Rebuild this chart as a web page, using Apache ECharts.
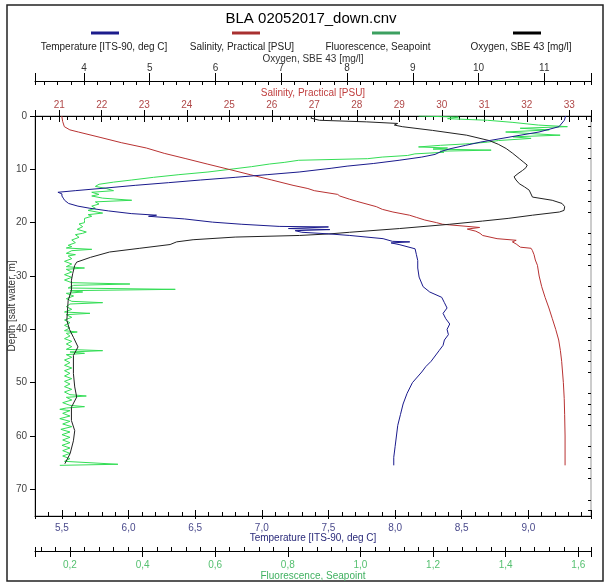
<!DOCTYPE html>
<html>
<head>
<meta charset="utf-8">
<title>BLA 02052017_down.cnv</title>
<script src="https://cdn.jsdelivr.net/npm/echarts@6/dist/echarts.min.js"></script>
<style>
  html, body { margin: 0; padding: 0; background: #fff; }
  #chart { width: 605px; height: 582px; }
</style>
</head>
<body>
<div id="chart"></div>
<script>
// profile values, depth in m
const tempDepth = [0, 0.8, 2, 3, 3.9, 4.9, 5.5, 6.1, 6.6, 7.2, 7.7, 8.3, 8.9, 9.4, 9.8, 10.5, 11, 11.5, 12, 12.5, 13, 13.5, 14, 14.3, 14.6, 15, 15.4, 15.8, 16.4, 16.9, 17.3, 17.8, 18.3, 18.6, 18.8, 19.3, 19.9, 20.3, 20.7, 20.8, 21.1, 21.3, 21.5, 21.8, 22.1, 22.4, 23, 23.5, 23.6, 23.8, 24.1, 24.9, 26, 27.1, 28.5, 30.2, 32, 33, 34, 35, 36, 37, 38, 39, 40, 41, 42, 43, 44, 45, 46, 47, 48, 50, 52, 54, 56, 58, 60, 62, 64, 65.5];
const tempValue = [9.28, 9.27, 9.23, 9.08, 8.87, 8.64, 8.53, 8.42, 8.35, 8.3, 8.2, 8.03, 7.84, 7.64, 7.52, 7.28, 7.04, 6.8, 6.54, 6.3, 6.05, 5.83, 5.6, 5.47, 5.5, 5.5, 5.51, 5.52, 5.55, 5.62, 5.71, 5.85, 6.02, 6.21, 6.15, 6.42, 6.63, 6.85, 7.13, 7.5, 7.2, 7.51, 7.25, 7.3, 7.5, 7.66, 7.91, 7.98, 8.11, 7.97, 8.03, 8.15, 8.16, 8.17, 8.17, 8.18, 8.21, 8.26, 8.35, 8.37, 8.39, 8.36, 8.38, 8.41, 8.39, 8.4, 8.37, 8.36, 8.33, 8.3, 8.27, 8.23, 8.2, 8.13, 8.09, 8.06, 8.04, 8.02, 8.01, 8.0, 7.99, 7.99];

const salDepth = [0, 1, 2, 2.6, 3, 4, 5, 6, 7, 8, 9, 10, 11, 12, 13, 13.6, 14, 14.7, 15, 15.6, 16, 17, 17.5, 18, 18.6, 19, 19.5, 20, 20.3, 20.9, 21.2, 21.6, 22, 22.4, 23, 23.3, 23.6, 24, 24.6, 24.8, 25.2, 26, 27, 28, 30, 32, 34, 36, 38, 40, 42, 44, 46, 48, 50, 53, 56, 60, 63, 65.5];
const salValue = [21.06, 21.08, 21.12, 21.25, 21.45, 21.96, 22.46, 23.05, 23.47, 23.98, 24.48, 24.99, 25.49, 26.0, 26.5, 26.85, 27.0, 27.55, 27.6, 27.83, 28.0, 28.46, 28.6, 28.85, 29.24, 29.4, 29.6, 29.88, 30.02, 30.89, 30.6, 30.8, 30.9, 30.96, 31.3, 31.75, 31.66, 31.75, 31.85, 32.1, 32.13, 32.17, 32.2, 32.25, 32.29, 32.35, 32.43, 32.52, 32.6, 32.68, 32.75, 32.79, 32.82, 32.84, 32.86, 32.88, 32.89, 32.9, 32.9, 32.9];

const fluDepth = [0, 0.2, 0.5, 0.8, 1.2, 1.7, 2.0, 2.3, 2.6, 3.0, 3.3, 3.6, 3.9, 4.2, 4.6, 4.9, 5.2, 5.5, 5.8, 6.0, 6.2, 6.4, 6.6, 6.8, 7.1, 7.4, 7.7, 8.0, 8.3, 8.7, 9.0, 9.5, 10.0, 10.5, 11.0, 11.5, 12.0, 12.4, 12.8, 13.2, 13.6, 14.0, 14.3, 14.7, 15.0, 15.4, 15.8, 16.1, 16.5, 16.9, 17.3, 17.7, 18.2, 18.5, 18.8, 19.2, 19.6,
  20.0, 20.25, 20.5, 20.75, 21.0, 21.25, 21.5, 21.75, 22.0, 22.25,
  22.5, 22.75, 23.0, 23.25, 23.5, 23.75, 24.0, 24.25, 24.5, 24.75,
  25.0, 25.25, 25.5, 25.75, 26.0, 26.25, 26.5, 26.75, 27.0, 27.25,
  27.5, 27.75, 28.0, 28.25, 28.5, 28.75, 29.0, 29.25, 29.5, 29.75,
  30.0, 30.25, 30.5, 30.75, 31.0, 31.25, 31.5, 31.75, 32.0, 32.25,
  32.5, 32.75, 33.0, 33.25, 33.5, 33.75, 34.0, 34.25, 34.5, 34.75,
  35.0, 35.25, 35.5, 35.75, 36.0, 36.25, 36.5, 36.75, 37.0, 37.25,
  37.5, 37.75, 38.0, 38.25, 38.5, 38.75, 39.0, 39.25, 39.5, 39.75,
  40.0, 40.25, 40.5, 40.75, 41.0, 41.25, 41.5, 41.75, 42.0, 42.25,
  42.5, 42.75, 43.0, 43.25, 43.5, 43.75, 44.0, 44.25, 44.5, 44.75,
  45.0, 45.25, 45.5, 45.75, 46.0, 46.25, 46.5, 46.75, 47.0, 47.25,
  47.5, 47.75, 48.0, 48.25, 48.5, 48.75, 49.0, 49.25, 49.5, 49.75,
  50.0, 50.25, 50.5, 50.75, 51.0, 51.25, 51.5, 51.75, 52.0, 52.25,
  52.5, 52.75, 53.0, 53.25, 53.5, 53.75, 54.0, 54.25, 54.5, 54.75,
  55.0, 55.25, 55.5, 55.75, 56.0, 56.25, 56.5, 56.75, 57.0, 57.25,
  57.5, 57.75, 58.0, 58.25, 58.5, 58.75, 59.0, 59.25, 59.5, 59.75,
  60.0, 60.25, 60.5, 60.75, 61.0, 61.25, 61.5, 61.75, 62.0, 62.25,
  62.5, 62.75, 63.0, 63.25, 63.5, 63.75, 64.0, 64.25, 64.5, 64.75,
  65.0, 65.3, 65.5];
const fluValue = [1.16, 1.27, 1.24, 1.35, 1.42, 1.49, 1.57, 1.44, 1.52, 1.40, 1.47, 1.55, 1.42, 1.47, 1.38, 1.35, 1.30, 1.22, 1.16, 1.24, 1.20, 1.36, 1.22, 1.23, 1.15, 1.13, 1.06, 1.02, 0.83, 0.79, 0.75, 0.70, 0.64, 0.58, 0.50, 0.43, 0.37, 0.32, 0.28, 0.27, 0.30, 0.32, 0.26, 0.28, 0.26, 0.29, 0.37, 0.27, 0.28, 0.26, 0.27, 0.25, 0.29, 0.25, 0.26, 0.24, 0.24,
  0.24, 0.225, 0.22, 0.235, 0.24, 0.22, 0.225, 0.245, 0.235, 0.215,
  0.21, 0.225, 0.22, 0.205, 0.20, 0.215, 0.21, 0.195, 0.205, 0.19,
  0.26, 0.205, 0.20, 0.19, 0.215, 0.195, 0.19, 0.205, 0.205, 0.185,
  0.19, 0.205, 0.205, 0.19, 0.24, 0.19, 0.19, 0.205, 0.205, 0.185,
  0.19, 0.205, 0.20, 0.185, 0.19, 0.205, 0.365, 0.21, 0.21, 0.195,
  0.49, 0.20, 0.235, 0.19, 0.20, 0.21, 0.215, 0.19, 0.19, 0.205,
  0.29, 0.20, 0.205, 0.19, 0.19, 0.205, 0.205, 0.185, 0.255, 0.19,
  0.19, 0.205, 0.20, 0.185, 0.185, 0.20, 0.20, 0.185, 0.185, 0.20,
  0.20, 0.185, 0.22, 0.19, 0.185, 0.20, 0.20, 0.185, 0.185, 0.205,
  0.205, 0.19, 0.19, 0.205, 0.21, 0.19, 0.29, 0.20, 0.24, 0.19,
  0.195, 0.205, 0.21, 0.185, 0.185, 0.20, 0.20, 0.185, 0.19, 0.205,
  0.205, 0.185, 0.185, 0.20, 0.20, 0.185, 0.19, 0.205, 0.205, 0.185,
  0.185, 0.20, 0.20, 0.185, 0.19, 0.205, 0.21, 0.185, 0.185, 0.20,
  0.245, 0.19, 0.19, 0.205, 0.205, 0.18, 0.185, 0.20, 0.24, 0.19,
  0.172, 0.20, 0.20, 0.18, 0.175, 0.20, 0.205, 0.172, 0.172, 0.20,
  0.20, 0.18, 0.18, 0.205, 0.205, 0.175, 0.172, 0.20, 0.20, 0.178,
  0.18, 0.20, 0.205, 0.18, 0.185, 0.20, 0.20, 0.178, 0.18, 0.20,
  0.205, 0.18, 0.175, 0.20, 0.20, 0.18, 0.18, 0.20, 0.20, 0.185,
  0.19, 0.332, 0.172];

const oxyDepth = [0, 0.4, 0.8, 1.1, 1.4, 1.7, 2, 2.7, 3.6, 4.6, 5.3, 6.1, 7, 8, 8.6, 9.2, 9.7, 10.2, 10.8, 11.4, 12, 12.7, 13.3, 13.9, 15.2, 15.8, 16.4, 17, 17.3, 17.7, 18, 18.6, 19.2, 19.7, 20.3, 21.1, 21.8, 22.1, 22.4, 22.7, 23.2, 23.6, 24.1, 24.8, 25.5, 26.5, 27.4, 28, 29.5, 30.8, 32.7, 34.6, 36.5, 38.3, 40, 41.5, 43.3, 44.9, 46.5, 48.3, 50.8, 52.7, 54.6, 57.1, 59, 60.9, 63.3, 65.2];
const oxyValue = [7.48, 7.45, 7.58, 8.3, 8.77, 8.72, 8.84, 9.3, 9.82, 10.16, 10.3, 10.42, 10.52, 10.62, 10.68, 10.74, 10.72, 10.67, 10.6, 10.54, 10.57, 10.62, 10.7, 10.77, 10.82, 11.12, 11.27, 11.31, 11.33, 11.3, 11.23, 10.82, 10.45, 10.06, 9.56, 8.8, 8.04, 7.74, 7.28, 6.3, 5.66, 5.41, 5.31, 4.85, 4.39, 4.1, 3.89, 3.86, 3.83, 3.81, 3.81, 3.76, 3.75, 3.74, 3.78, 3.84, 3.91, 3.84, 3.84, 3.84, 3.86, 3.89, 3.81, 3.81, 3.86, 3.84, 3.79, 3.71];

const legendNames = ['Temperature [ITS-90, deg C]', 'Salinity, Practical [PSU]', 'Fluorescence, Seapoint', 'Oxygen, SBE 43 [mg/l]'];
const legendColors = ['#1c1c8c', '#a83030', '#3ca060', '#000000'];
const legendLineX = [105, 246, 386, 527];
const legendTextX = [104, 242, 378, 521];

const FONT = 'Liberation Sans';

function pairs(depth, vals) {
  return vals.map((v, i) => [v, depth[i]]);
}
const fmtInt = v => String(Math.round(v));
const fmtComma = v => v.toFixed(1).replace('.', ',');

// main axis: line, labels, inner ticks + minor; twin: outer part of the major ticks
function xAxisPair(a) {
  const base = {
    type: 'value', position: a.position, offset: a.offset,
    min: a.min, max: a.max, minInterval: a.step, maxInterval: a.step,
    splitLine: { show: false }
  };
  const main = Object.assign({}, base, {
    name: a.name, nameLocation: 'middle', nameGap: a.nameGap, nameMoveOverlap: false,
    nameTextStyle: { color: a.nameColor, fontSize: 10, fontFamily: FONT },
    axisLine: { show: true, onZero: false, lineStyle: { color: '#000', width: 1 } },
    axisTick: { show: true, inside: true, length: a.inLen, lineStyle: { color: '#000' } },
    minorTick: { show: true, splitNumber: 5, length: 4, lineStyle: { color: '#000' } },
    axisLabel: { color: a.labelColor, fontSize: 10, fontFamily: FONT, margin: a.margin,
      showMinLabel: false, showMaxLabel: false, formatter: a.fmt }
  });
  const twin = Object.assign({}, base, {
    axisLine: { show: false, onZero: false },
    axisTick: { show: true, inside: false, length: a.outLen, lineStyle: { color: '#000' } },
    minorTick: { show: false },
    axisLabel: { show: false }
  });
  return [main, twin];
}

const xAxes = [].concat(
  xAxisPair({ position: 'top', offset: 0, min: 20.43, max: 33.51, step: 1, name: 'Salinity, Practical [PSU]',
    nameColor: '#c04040', labelColor: '#b04848', nameGap: 18, margin: 6, inLen: 6, outLen: 6, fmt: fmtInt }),
  xAxisPair({ position: 'top', offset: 35, min: 3.256, max: 11.71, step: 1, name: 'Oxygen, SBE 43 [mg/l]',
    nameColor: '#333', labelColor: '#333', nameGap: 17, margin: 8, inLen: 4, outLen: 8, fmt: fmtInt }),
  xAxisPair({ position: 'bottom', offset: 0, min: 5.298, max: 9.47, step: 0.5, name: 'Temperature [ITS-90, deg C]',
    nameColor: '#2a2a7a', labelColor: '#4a4a8c', nameGap: 17, margin: 7, inLen: 6, outLen: 3, fmt: fmtComma }),
  xAxisPair({ position: 'bottom', offset: 35, min: 0.1037, max: 1.635, step: 0.2, name: 'Fluorescence, Seapoint',
    nameColor: '#40b060', labelColor: '#55c070', nameGap: 20, margin: 9, inLen: 4, outLen: 6, fmt: fmtComma })
);

const graphics = [
  { type: 'rect', shape: { x: 7, y: 5, width: 596, height: 576 }, style: { fill: 'none', stroke: '#222', lineWidth: 1.5 }, silent: true },
  { type: 'text', x: 311, y: 19, style: { text: 'BLA 02052017_down.cnv', fontSize: 15, fontFamily: FONT, fill: '#000', align: 'center', verticalAlign: 'middle' } }
];
legendNames.forEach((n, i) => {
  graphics.push({ type: 'line', shape: { x1: legendLineX[i] - 14, y1: 33, x2: legendLineX[i] + 14, y2: 33 },
    style: { stroke: legendColors[i], lineWidth: 3 } });
  graphics.push({ type: 'text', x: legendTextX[i], y: 47,
    style: { text: n, fontSize: 10, fontFamily: FONT, fill: '#222', align: 'center', verticalAlign: 'middle' } });
});

const chart = echarts.init(document.getElementById('chart'), null, { renderer: 'canvas' });
chart.setOption({
  animation: false,
  backgroundColor: '#fff',
  textStyle: { fontFamily: FONT },
  grid: { left: 35, right: 14, top: 116, bottom: 66, containLabel: false, outerBoundsMode: 'none',
    show: true, borderColor: '#999', borderWidth: 1, backgroundColor: 'transparent' },
  graphic: graphics,
  xAxis: xAxes,
  yAxis: [
    { type: 'value', inverse: true, min: 0, max: 75, interval: 10,
      name: 'Depth [salt water, m]', nameLocation: 'middle', nameGap: 18, nameRotate: 90, nameMoveOverlap: false,
      nameTextStyle: { color: '#333', fontSize: 10, fontFamily: FONT, padding: [0, 0, 0, 20] },
      axisLine: { show: true, onZero: false, lineStyle: { color: '#000' } },
      axisTick: { show: true, inside: false, length: 5, lineStyle: { color: '#000' } },
      axisLabel: { color: '#444', fontSize: 10, fontFamily: FONT, margin: 8, showMaxLabel: false },
      splitLine: { show: false } },
    { type: 'value', inverse: true, min: 0, max: 75, interval: 10,
      axisLine: { show: false, onZero: false },
      axisTick: { show: false, inside: true },
      minorTick: { show: true, splitNumber: 5, length: 3, lineStyle: { color: '#000' } },
      axisLabel: { show: false },
      splitLine: { show: false } }
  ],
  series: [
    { name: legendNames[1], type: 'line', xAxisIndex: 0, yAxisIndex: 0, data: pairs(salDepth, salValue),
      symbol: 'none', lineStyle: { color: '#b83232', width: 1 }, z: 3 },
    { name: legendNames[3], type: 'line', xAxisIndex: 2, yAxisIndex: 0, data: pairs(oxyDepth, oxyValue),
      symbol: 'none', lineStyle: { color: '#222', width: 1 }, z: 4 },
    { name: legendNames[2], type: 'line', xAxisIndex: 6, yAxisIndex: 0, data: pairs(fluDepth, fluValue),
      symbol: 'none', lineStyle: { color: '#33dd55', width: 1 }, z: 2 },
    { name: legendNames[0], type: 'line', xAxisIndex: 4, yAxisIndex: 0, data: pairs(tempDepth, tempValue),
      symbol: 'none', lineStyle: { color: '#1a1a8c', width: 1 }, z: 5 }
  ]
});
</script>
</body>
</html>
